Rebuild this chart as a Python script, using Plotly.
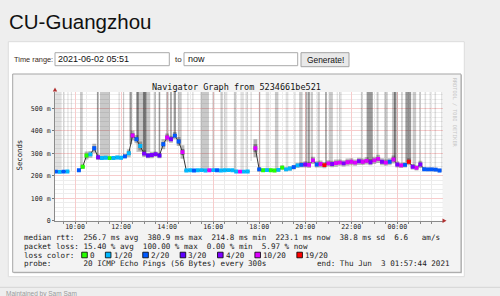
import plotly.graph_objects as go
import numpy as np
import pandas as pd

W, H = 500, 296
def px(x): return x / W
def py(y): return 1 - y / H

# ---------------- data ----------------
times = pd.date_range("2021-06-02 09:10", "2021-06-03 01:50", freq="10min")

median_ms = [218, 217, 218, 219, None, None,
             224, 240, 290, 295, 322, 282,
             279, 280, 278, 279, 281, 280, 286,
             300, 379, 362, 332, 298, 290, 292, 296, 290,
             340, 370, 362, 378, 352, 305,
             223, 224, 223, 224, 225, 223, 224, 225, 224, 223, 224, 225, 224,
             219, 218, 218, 219, None,
             322, 228, 224, 225, 224, 223, 226, 236, 228, 232, 238, 246, 248,
             250, 248, 268, 250, 252, 247,
             255, 252, 256, 258, 255, 260,
             262, 258, 264, 262, 266, 260,
             268, 275, 262, 258, 262, 272,
             250, 246, 248, 262, 240, 235,
             250, 229, 228, 228, 227, 223]

loss_idx = [2, 1, 2, 1, 0, 0,
            2, 0, 0, 1, 2, 4,
            1, 1, 0, 1, 1, 1, 2,
            1, 5, 2, 1, 4, 3, 4, 4, 3,
            2, 5, 4, 2, 2, 5,
            1, 1, 2, 1, 1, 1, 5, 1, 2, 1, 1, 1, 1,
            1, 5, 1, 1, 0,
            5, 2, 0, 1, 0, 0, 1, 0, 1, 1, 2, 1, 2,
            4, 5, 5, 2, 5, 6,
            5, 4, 5, 5, 4, 5,
            5, 5, 4, 5, 5, 4,
            5, 5, 4, 5, 2, 5,
            4, 5, 2, 6, 4, 5,
            4, 2, 2, 2, 2, 2]

smoke_ms = [6, 6, 6, 6, 0, 0,
            6, 10, 18, 15, 20, 12,
            8, 7, 7, 8, 8, 8, 10,
            18, 22, 18, 20, 15, 12, 14, 12, 12,
            22, 18, 15, 16, 20, 30,
            5, 5, 5, 5, 5, 5, 5, 5, 5, 5, 5, 5, 5,
            5, 5, 5, 5, 0,
            40, 10, 8, 8, 8, 8, 8, 10, 8, 10, 10, 12, 12,
            14, 14, 16, 14, 16, 14,
            14, 14, 16, 14, 14, 16,
            16, 14, 16, 14, 16, 14,
            16, 18, 16, 14, 16, 18,
            14, 12, 12, 16, 12, 12,
            16, 8, 8, 8, 8, 8]

spike_start = ["09:08", "09:29", "09:40", "09:49", "10:13", "10:57", "11:05", "11:53", "12:05", "12:22",
               "12:40", "12:40", "12:57", "13:25", "13:38", "13:57", "14:08", "14:17", "14:28", "14:52",
               "15:05", "15:27", "15:57", "16:19", "16:28", "16:54", "17:11", "17:24", "17:37", "17:59",
               "18:17", "18:41", "19:09", "19:31", "19:44", "20:01", "20:06", "20:14", "20:32", "20:52",
               "21:02", "21:22", "21:28", "22:25", "22:40", "23:06", "23:26", "23:46", "23:51", "00:10",
               "00:21", "00:40", "00:57", "01:11", "01:24", "01:37", "01:54"]
spike_minutes = [17, 4, 3, 3, 7, 4, 26, 4, 3, 6,
                 36, 6, 9, 6, 4, 7, 4, 6, 10, 4,
                 4, 22, 7, 6, 9, 6, 9, 7, 4, 4,
                 9, 9, 7, 4, 9, 3, 6, 6, 6, 4,
                 10, 3, 7, 4, 16, 5, 9, 15, 5, 4,
                 15, 9, 4, 4, 4, 4, 4]
spike_shade = ["L", "L", "L", "L", "M", "D", "M", "L", "M", "D",
               "M", "D", "D", "M", "D", "M", "D", "D", "M", "L",
               "L", "M", "L", "M", "L", "M", "L", "L", "L", "M",
               "L", "M", "L", "L", "M", "D", "D", "M", "M", "D",
               "M", "L", "L", "M", "D", "M", "M", "M", "D", "M",
               "D", "M", "M", "L", "L", "L", "L"]

loss_labels = ["0", "1/20", "2/20", "3/20", "4/20", "10/20", "19/20"]
loss_colors = ["#26ff00", "#00b8ff", "#0059ff", "#5e00ff", "#7e00ff", "#dd00ff", "#ff0000"]

y_tickvals = [0, 100, 200, 300, 400, 500]
y_ticktext = ["0", "100 m", "200 m", "300 m", "400 m", "500 m"]

rtt_stats = [256.7, 380.9, 214.8, 223.1, 38.8, 6.6]
loss_stats = [15.40, 100.00, 0.00, 5.97]

x_start = "2021-06-02 09:07:44"
x_end = "2021-06-03 01:57:44"
y_top = 572

# ---------------- figure ----------------
fig = go.Figure()
NB = "\u00a0"

def clock(hhmm):
    h = int(hhmm.split(":")[0])
    day = "2021-06-03" if h < 9 else "2021-06-02"
    return pd.Timestamp(f"{day} {hhmm}")

med = np.array([np.nan if v is None else v for v in median_ms], dtype=float)
valid = ~np.isnan(med)
tnum = times.astype("int64").to_numpy() / 1e6  # ms

# tall smoke spikes reaching the top
shade_col = {"L": "rgba(0,0,0,0.12)", "M": "rgba(0,0,0,0.21)", "D": "rgba(0,0,0,0.40)"}
for sh in ["L", "M", "D"]:
    xs, bases, hs, ws = [], [], [], []
    for s, m, c in zip(spike_start, spike_minutes, spike_shade):
        if c != sh:
            continue
        t0 = clock(s)
        tc = t0 + pd.Timedelta(minutes=m / 2)
        b = float(np.interp(tc.value / 1e6, tnum[valid], med[valid]))
        xs.append(tc)
        bases.append(b)
        hs.append(650 - b)
        ws.append(m * 60000)
    fig.add_trace(go.Bar(x=xs, y=hs, base=bases, width=ws,
                         marker=dict(color=shade_col[sh], line=dict(width=0)),
                         hoverinfo="skip"))

# smoke around the median
lo_o, h_o, lo_i, h_i = [], [], [], []
for v, s in zip(median_ms, smoke_ms):
    if v is None:
        lo_o.append(None); h_o.append(None); lo_i.append(None); h_i.append(None)
    else:
        lo_o.append(v - s); h_o.append(2 * s)
        lo_i.append(v - s * 0.45); h_i.append(s * 0.9)
fig.add_trace(go.Bar(x=times, y=h_o, base=lo_o, width=600000,
                     marker=dict(color="rgba(0,0,0,0.28)", line=dict(width=0)), hoverinfo="skip"))
fig.add_trace(go.Bar(x=times, y=h_i, base=lo_i, width=600000,
                     marker=dict(color="rgba(0,0,0,0.35)", line=dict(width=0)), hoverinfo="skip"))

# median line
fig.add_trace(go.Scatter(x=times, y=median_ms, mode="lines",
                         line=dict(color="#333333", width=1), connectgaps=False, hoverinfo="skip"))

# loss-colored median markers
for k, col in enumerate(loss_colors):
    xs = [t for t, v, l in zip(times, median_ms, loss_idx) if v is not None and l == k]
    ys = [v for v, l in zip(median_ms, loss_idx) if v is not None and l == k]
    fig.add_trace(go.Scatter(x=xs, y=ys, mode="markers",
                             marker=dict(symbol="square", size=3.9, color=col, line=dict(width=0)),
                             hoverinfo="skip"))

mono = "DejaVu Sans Mono"
sans = "Liberation Sans, Arial"

fig.update_xaxes(type="date", range=[x_start, x_end], domain=[px(55), px(442.5)],
                 tickformat="%H:%M", dtick=7200000, tick0="2021-06-02 10:00",
                 showgrid=True, gridcolor="#f7cccc", gridwidth=1,
                 minor=dict(dtick=1800000, showgrid=True, gridcolor="#ebebeb",
                            ticks="outside", ticklen=2, tickcolor="#888"),
                 ticks="outside", ticklen=2, tickcolor="#777", ticklabelstandoff=-3,
                 showline=True, linecolor="#8a8a8a", linewidth=1, zeroline=False,
                 tickfont=dict(family=mono, size=6.6, color="#222"), fixedrange=True)
fig.update_yaxes(range=[0, y_top], domain=[py(220.7), py(92)],
                 tickvals=y_tickvals, ticktext=y_ticktext,
                 showgrid=True, gridcolor="#f7cccc", gridwidth=1,
                 minor=dict(dtick=20, showgrid=True, gridcolor="#ededed"),
                 ticks="outside", ticklen=2, tickcolor="#777",
                 showline=True, linecolor="#8a8a8a", linewidth=1, zeroline=False,
                 tickfont=dict(family=mono, size=6.6, color="#222"), fixedrange=True)

shapes = []
def rect(x0, y0, x1, y1, fill, line=None, lw=1, layer="below"):
    shapes.append(dict(type="rect", xref="paper", yref="paper",
                       x0=px(x0), x1=px(x1), y0=py(y1), y1=py(y0),
                       fillcolor=fill, layer=layer,
                       line=dict(color=line if line else "rgba(0,0,0,0)", width=lw if line else 0)))

rect(8.3, 41.7, 464.3, 276.7, "#ffffff", "#dcdcdc")
rect(13.7, 75, 462, 273.3, "#c4c4c4")
rect(12.7, 74, 461, 272.3, "#f3f3f3", "#a5a5a5")
rect(55, 92, 442.5, 220.7, "#ffffff")
rect(55, 52.7, 169.3, 65.7, "#ffffff", "#a9a9a9")
rect(184, 52.7, 297.7, 65.7, "#ffffff", "#a9a9a9")
rect(301, 52.7, 349, 66.7, "#e9e9e9", "#a3a3a3")
shapes.append(dict(type="line", xref="paper", yref="paper", x0=0, x1=1, y0=py(287.3), y1=py(287.3),
                   line=dict(color="#d4d4d4", width=1)))
# axis arrows
shapes.append(dict(type="path", xref="paper", yref="paper", layer="above",
                   path=f"M {px(52.8)} {py(91.5)} L {px(57.2)} {py(91.5)} L {px(55)} {py(87.5)} Z",
                   fillcolor="#b03030", line=dict(width=0)))
shapes.append(dict(type="path", xref="paper", yref="paper", layer="above",
                   path=f"M {px(442.5)} {py(218.5)} L {px(442.5)} {py(222.9)} L {px(446.5)} {py(220.7)} Z",
                   fillcolor="#b03030", line=dict(width=0)))

annotations = []
def text(x, y, s, size, family=sans, color="#111", xanchor="left", angle=0):
    annotations.append(dict(x=px(x), y=py(y), xref="paper", yref="paper", text=s,
                            showarrow=False, xanchor=xanchor, yanchor="middle",
                            textangle=angle, borderpad=0,
                            font=dict(family=family, size=size, color=color)))

text(7.6, 21.5, "CU-Guangzhou", 20.5, color="#111")
text(12.7, 59.6, "Time range:", 7.4, color="#3a2a20")
text(57.3, 59.4, "2021-06-02 05:51", 9, color="#111")
text(174, 59.6, "to", 8, color="#3a2a20")
text(186.7, 59.4, "now", 9, color="#111")
text(325, 59.7, "Generate!", 8.4, color="#111", xanchor="center")
text(236.5, 86.7, "Navigator Graph from 5234661be521", 8.5, family=mono, color="#111", xanchor="center")
text(19, 155.5, "Seconds", 7.3, family=mono, color="#222", xanchor="center", angle=-90)
text(455.5, 112.5, "RRDTOOL / TOBI OETIKER", 5.2, family=mono, color="#c6c6c6", xanchor="center", angle=90)

def sp(n): return NB * n
x0 = 22.7
cw = 4.57
fs = 7.6
line1 = ("median rtt:" + sp(2) + f"{rtt_stats[0]:.1f} ms avg" + sp(2) + f"{rtt_stats[1]:.1f} ms max" + sp(2)
         + f"{rtt_stats[2]:.1f} ms min" + sp(2) + f"{rtt_stats[3]:.1f} ms now" + sp(2)
         + f"{rtt_stats[4]:.1f} ms sd" + sp(2) + f"{rtt_stats[5]:.1f}" + sp(3) + "am/s")
line2 = ("packet loss:" + sp(1) + f"{loss_stats[0]:.2f} % avg" + sp(2) + f"{loss_stats[1]:.2f} % max" + sp(2)
         + f"{loss_stats[2]:.2f} % min" + sp(2) + f"{loss_stats[3]:.2f} % now")
text(x0, 237.6, line1, fs, family=mono, color="#222")
text(x0, 246.3, line2, fs, family=mono, color="#222")
text(x0, 255.1, "loss color:", fs, family=mono, color="#222")
text(x0, 263.9, "probe:" + sp(7) + "20 ICMP Echo Pings (56 Bytes) every 300s", fs, family=mono, color="#222")
text(450.7, 263.9, "end: Thu Jun" + sp(2) + "3 01:57:44 2021", fs, family=mono, color="#222", xanchor="right")

bx = 81.7
for lab, col in zip(loss_labels, loss_colors):
    rect(bx, 252.2, bx + 5.6, 257.8, col, "#000000", 0.8, layer="above")
    text(bx + 7.2, 255.1, lab, fs, family=mono, color="#222")
    bx += 19.1 + len(lab) * cw

text(5, 293.5, "Maintained by Sam Sam", 6.5, color="#9a9a9a")

fig.update_layout(width=W, height=H, autosize=False, template="none",
                  margin=dict(l=0, r=0, t=0, b=0, pad=0),
                  paper_bgcolor="#eeeeee", plot_bgcolor="rgba(0,0,0,0)",
                  barmode="overlay", showlegend=False,
                  shapes=shapes, annotations=annotations, hovermode=False)

fig.write_html("out.html", config={"displayModeBar": False, "staticPlot": True})
